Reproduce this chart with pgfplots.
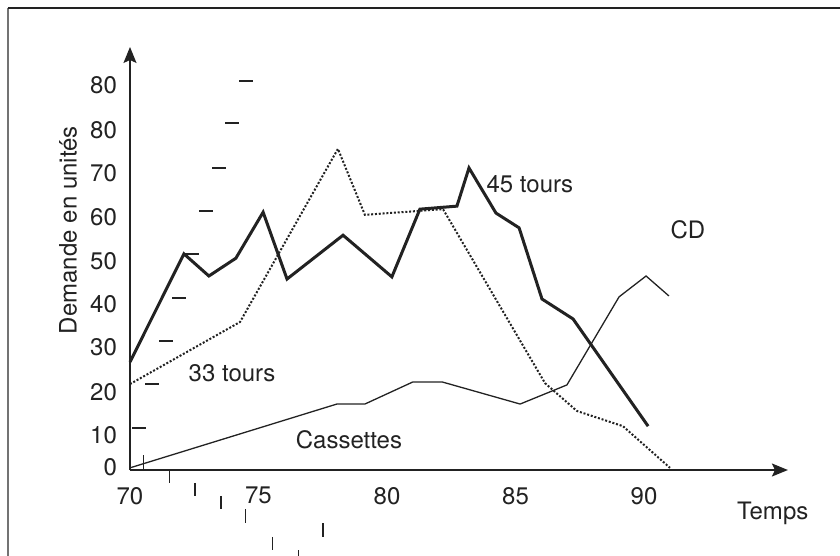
\documentclass[border=0pt]{standalone}
\usepackage{fontspec}
\setmainfont{TeX Gyre Heros}
\usepackage{pgfplots}
\pgfplotsset{compat=1.18}
\usetikzlibrary{arrows.meta}
\definecolor{ink}{HTML}{222222}

\begin{document}
\begin{tikzpicture}[font=\fontsize{12}{14}\selectfont]
\begin{axis}[
  x=12.85pt, y=2.17pt,
  xmin=70, xmax=95.60, ymin=0, ymax=97.47,
  axis lines=left,
  axis line style={-{Stealth[length=8pt,width=6.5pt,inset=1.5pt]}, line width=0.75pt, draw=ink},
  clip=false,
  xtick={70,75,80,85,90},
  ytick={0.69,8.06,17.97,28.34,38.25,48.16,58.29,68.43,78.34,88.71},
  yticklabels={0,10,20,30,40,50,60,70,80,80},
  major tick length=0pt,
  tick style={draw=none},
  /pgf/number format/assume math mode=true,
  ticklabel style={text=ink},
  xticklabel style={yshift=-5pt},
  yticklabel style={xshift=-3pt},
  xlabel={Temps}, ylabel={Demande en unités},
  label style={text=ink},
  xlabel style={at={(axis description cs:0.977,-0.1017)}, anchor=center},
  ylabel style={at={(axis description cs:-0.0942,0.567)}, anchor=center},
]
% 45 tours
\addplot[ink, line width=1.5pt] coordinates {
 (70,24.9) (72.10,49.8) (73.07,44.7) (74.12,48.8) (75.18,59.4) (76.11,44.0)
 (78.29,54.1) (80.19,44.5) (81.28,60.1) (82.72,60.8) (83.19,69.6) (84.24,59.2)
 (85.14,55.8) (86.03,39.4) (87.24,34.8) (90.16,10.1)};
% 33 tours
\addplot[ink, line width=1pt, dash pattern=on 1pt off 0.9pt] coordinates {
 (70,19.8) (74.28,34.1) (78.09,74.0) (79.14,58.8) (82.18,60.1) (86.15,20.0)
 (87.39,13.6) (89.18,10.1) (91.01,0.5)};
% Cassettes / CD
\addplot[ink, line width=0.65pt] coordinates {
 (70,0.5) (78.05,15.2) (79.14,15.2) (81.01,20.3) (82.14,20.3) (85.18,15.2)
 (87.00,19.6) (89.03,39.9) (90.08,44.7) (90.97,40.1)};
% stray tick marks
\addplot[only marks, mark=-, mark size=3.3pt, mark options={line width=0.55pt, draw=ink}] coordinates {
 (70.35,9.68) (70.86,19.82) (71.40,29.72) (71.91,39.63) (72.41,49.77)
 (72.96,59.68) (73.46,69.59) (73.97,79.95) (74.51,89.63)};
\addplot[only marks, mark=|, mark size=3.3pt, mark options={line width=0.55pt, draw=ink}] coordinates {
 (70.51,1.84) (71.52,-1.38) (72.53,-4.49) (73.54,-7.49) (74.51,-10.60)
 (75.53,-16.94) (76.54,-20.0) (77.51,-13.82)};
\node[text=ink] at (axis cs:85.56,65.9) {45 tours};
\node[text=ink] at (axis cs:91.71,55.3) {CD};
\node[text=ink] at (axis cs:73.97,22.35) {33 tours};
\node[text=ink] at (axis cs:78.52,6.91) {Cassettes};
\draw[black!55, line width=1pt] (axis cs:65.253,-21.89) -- (axis cs:65.253,106.45);
\draw[ink, line width=1pt] (axis cs:65.253,106.45) -- (axis cs:98.02,106.45);
\coordinate (bbsw) at (axis cs:64.942,-19.585);
\coordinate (bbne) at (axis cs:97.626,108.295);
\end{axis}
\pgfresetboundingbox
\path[use as bounding box] (bbsw) rectangle (bbne);
\end{tikzpicture}
\end{document}
